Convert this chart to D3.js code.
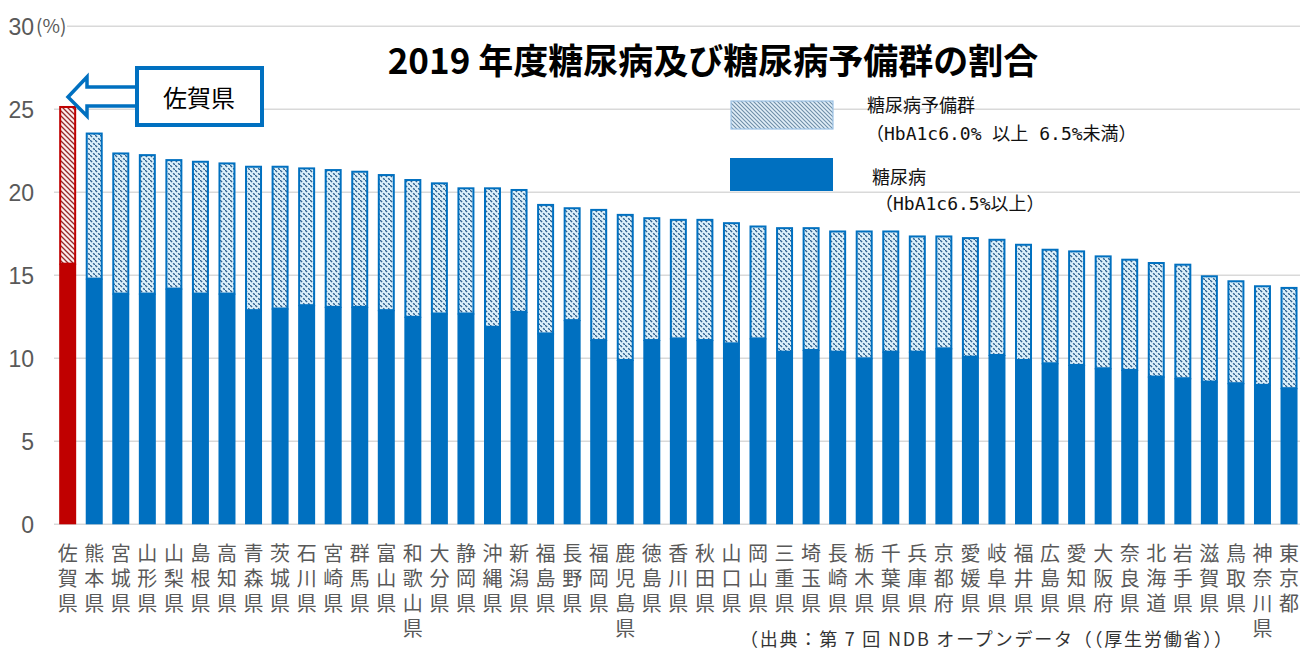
<!DOCTYPE html>
<html lang="ja">
<head>
<meta charset="UTF-8">
<title>2019年度糖尿病及び糖尿病予備群の割合</title>
<script src="https://d3js.org/d3.v7.min.js"></script>
<style>
  body { margin: 0; background: #fff; }
  svg { display: block; }
  .cjk { font-family: "Noto Sans CJK JP", "Noto Sans", sans-serif; }
  .tick-y { font-family: "Liberation Sans Narrow", "Liberation Sans", Arial, sans-serif; fill: #595959; }
</style>
</head>
<body>
<script>
// prefectures, sorted by total share (desc)
const prefectures = ["佐賀県","熊本県","宮城県","山形県","山梨県","島根県","高知県","青森県","茨城県","石川県",
  "宮崎県","群馬県","富山県","和歌山県","大分県","静岡県","沖縄県","新潟県","福島県","長野県",
  "福岡県","鹿児島県","徳島県","香川県","秋田県","山口県","岡山県","三重県","埼玉県","長崎県",
  "栃木県","千葉県","兵庫県","京都府","愛媛県","岐阜県","福井県","広島県","愛知県","大阪府",
  "奈良県","北海道","岩手県","滋賀県","鳥取県","神奈川県","東京都"];

// 糖尿病 (HbA1c 6.5%以上), %
const diabetes = [15.7,14.8,13.9,13.9,14.2,13.9,13.9,12.9,13.0,13.2,
  13.1,13.1,12.9,12.5,12.7,12.7,11.9,12.8,11.5,12.3,
  11.1,9.9,11.1,11.2,11.1,10.9,11.2,10.4,10.5,10.4,
  10.0,10.4,10.4,10.6,10.1,10.2,9.9,9.7,9.6,9.4,
  9.3,8.9,8.8,8.6,8.5,8.4,8.2];

// 糖尿病予備群 (HbA1c 6.0%以上 6.5%未満), %
const prediabetes = [9.5,8.8,8.5,8.4,7.8,8.0,7.9,8.7,8.6,8.3,
  8.3,8.2,8.2,8.3,7.9,7.6,8.4,7.4,7.8,6.8,
  7.9,8.8,7.4,7.2,7.3,7.3,6.8,7.5,7.4,7.3,
  7.7,7.3,7.0,6.8,7.2,7.0,7.0,6.9,6.9,6.8,
  6.7,6.9,6.9,6.4,6.2,6.0,6.1];

const yTicks = [0, 5, 10, 15, 20, 25, 30];
const highlight = "佐賀県";

const W = 1300, H = 651;
const svg = d3.select("body").append("svg").attr("width", W).attr("height", H);

const data = prefectures.map((p, i) => ({
  name: p, dia: diabetes[i], pre: prediabetes[i], total: diabetes[i] + prediabetes[i]
}));

// scales
const x = d3.scaleBand().domain(prefectures).range([54.4, 1302.3]).paddingInner(0.36).paddingOuter(0.18);
const y = d3.scaleLinear().domain([0, 30]).range([524.3, 26.3]);

// patterns
const defs = svg.append("defs");
function hatch(id, bg, line, size, width, dash) {
  const p = defs.append("pattern").attr("id", id)
    .attr("patternUnits", "userSpaceOnUse").attr("width", size).attr("height", size);
  p.append("rect").attr("width", size).attr("height", size).attr("fill", bg);
  p.append("path")
    .attr("d", `M0,0L${size},${size}M${-size/2},${size/2}L${size/2},${size*1.5}M${size/2},${-size/2}L${size*1.5},${size/2}`)
    .attr("stroke", line).attr("stroke-width", width)
    .attr("stroke-dasharray", dash || null);
}
hatch("hatchBlue", "#dcf0fa", "#2f6190", 5, 1.4, "3 1.5");
hatch("hatchRed", "#fcecec", "#962828", 5, 1.3, null);
hatch("hatchLegend", "#e2eff8", "#6f8ea8", 4, 1.1, null);

// gridlines
svg.append("g").selectAll("line").data(yTicks).join("line")
  .attr("x1", d => d === 30 ? 67 : 54).attr("x2", W)
  .attr("y1", d => y(d)).attr("y2", d => y(d))
  .attr("stroke", "#d9d9d9").attr("stroke-width", 1.6);

// y tick labels
svg.append("g").selectAll("text").data(yTicks).join("text")
  .attr("class", "tick-y")
  .attr("x", 34).attr("y", d => y(d))
  .attr("dy", "0.36em").attr("text-anchor", "end")
  .attr("font-size", 23)
  .text(d => d);
svg.append("text").attr("class", "cjk")
  .attr("x", 36).attr("y", y(30)).attr("dy", "0.36em")
  .attr("font-size", 19).attr("fill", "#595959")
  .text("(%)");

// bars
const bars = svg.append("g");
bars.selectAll("rect.dia").data(data).join("rect")
  .attr("class", "dia")
  .attr("x", d => x(d.name)).attr("width", x.bandwidth())
  .attr("y", d => y(d.dia)).attr("height", d => y(0) - y(d.dia))
  .attr("fill", d => d.name === highlight ? "#c00000" : "#0070c0");
bars.selectAll("rect.pre").data(data).join("rect")
  .attr("class", "pre")
  .attr("x", d => x(d.name) + 1).attr("width", x.bandwidth() - 2)
  .attr("y", d => y(d.total) + 1).attr("height", d => y(d.dia) - y(d.total) - 1)
  .attr("fill", d => d.name === highlight ? "url(#hatchRed)" : "url(#hatchBlue)")
  .attr("stroke", d => d.name === highlight ? "#c00000" : "#0070c0")
  .attr("stroke-width", 2);

// x labels, one character per line
const xl = svg.append("g").attr("class", "cjk");
xl.selectAll("text").data(prefectures).join("text")
  .attr("x", d => x(d) + x.bandwidth() / 2)
  .attr("text-anchor", "middle")
  .attr("font-size", 20).attr("fill", "#595959")
  .each(function(d) {
    const t = d3.select(this);
    Array.from(d).forEach((ch, i) => {
      t.append("tspan").attr("x", x(d) + x.bandwidth() / 2)
        .attr("y", 552 + i * 25).attr("dominant-baseline", "central").text(ch);
    });
  });

// title
svg.append("text").attr("class", "cjk")
  .attr("x", 713).attr("y", 58).attr("dominant-baseline", "central")
  .attr("text-anchor", "middle").attr("font-size", 35).attr("font-weight", "bold")
  .attr("fill", "#000")
  .text("2019 年度糖尿病及び糖尿病予備群の割合");

// callout arrow + box
const box = svg.append("g");
box.append("path")
  .attr("d", "M68,97L87,77L87,87L142,87L142,106L87,106L87,116Z")
  .attr("fill", "#fff").attr("stroke", "#0070c0").attr("stroke-width", 3.5)
  .attr("stroke-linejoin", "miter");
box.append("rect").attr("x", 137).attr("y", 68).attr("width", 125).attr("height", 57)
  .attr("fill", "#fff").attr("stroke", "#0070c0").attr("stroke-width", 4);
box.append("text").attr("class", "cjk")
  .attr("x", 199).attr("y", 96).attr("dominant-baseline", "central")
  .attr("text-anchor", "middle").attr("font-size", 24).attr("fill", "#000")
  .text(highlight);

// legend
const lg = svg.append("g");
lg.append("rect").attr("x", 731).attr("y", 101).attr("width", 102).attr("height", 28)
  .attr("fill", "url(#hatchLegend)").attr("stroke", "#9dc3e6").attr("stroke-width", 1.2);
lg.append("rect").attr("x", 730).attr("y", 158).attr("width", 103).attr("height", 33)
  .attr("fill", "#0070c0");
const legendText = [
  { t: "糖尿病予備群", x: 867, y: 105 },
  { t: "（HbA1c6.0% 以上 6.5%未満）", x: 866, y: 133 },
  { t: "糖尿病", x: 872, y: 177 },
  { t: "（HbA1c6.5%以上）", x: 875, y: 203 }
];
lg.selectAll("text").data(legendText).join("text")
  .attr("x", d => d.x).attr("y", d => d.y)
  .attr("dominant-baseline", "central")
  .attr("font-family", "'DejaVu Sans Mono', 'Noto Sans CJK JP', monospace")
  .attr("font-size", 18).attr("fill", "#111")
  .text(d => d.t);

// source
svg.append("text").attr("class", "cjk")
  .attr("x", 740).attr("y", 638).attr("dominant-baseline", "central")
  .attr("font-size", 18).attr("fill", "#333")
  .attr("textLength", 492).attr("lengthAdjust", "spacing")
  .text("（出典：第 7 回 NDB オープンデータ（（厚生労働省））");
</script>
</body>
</html>
